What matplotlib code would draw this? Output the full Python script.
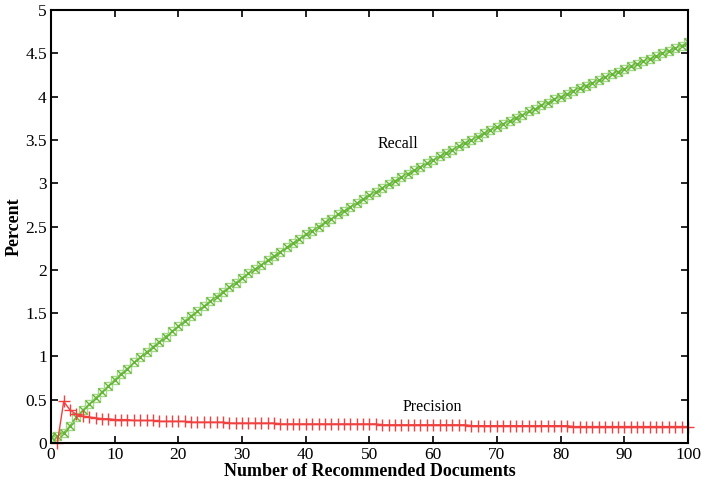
import numpy as np
import matplotlib.pyplot as plt

plt.rcParams['font.family'] = ['Liberation Serif', 'DejaVu Serif']

docs_recall = list(range(0, 101))
recall = [0.07, 0.08, 0.12, 0.20, 0.30, 0.38, 0.45, 0.52, 0.59, 0.66, 0.73,
          0.80, 0.86, 0.93, 0.99, 1.05, 1.11, 1.17, 1.23, 1.29, 1.35,
          1.41, 1.47, 1.52, 1.58, 1.64, 1.69, 1.75, 1.80, 1.85, 1.91,
          1.96, 2.01, 2.06, 2.11, 2.16, 2.21, 2.26, 2.31, 2.36, 2.41,
          2.45, 2.50, 2.55, 2.59, 2.64, 2.68, 2.73, 2.77, 2.82, 2.86,
          2.90, 2.95, 2.99, 3.03, 3.07, 3.11, 3.15, 3.19, 3.23, 3.27,
          3.31, 3.35, 3.39, 3.43, 3.47, 3.50, 3.54, 3.58, 3.62, 3.65,
          3.69, 3.72, 3.76, 3.79, 3.83, 3.86, 3.90, 3.93, 3.97, 4.00,
          4.03, 4.07, 4.10, 4.13, 4.16, 4.19, 4.23, 4.26, 4.29, 4.32,
          4.35, 4.38, 4.41, 4.44, 4.47, 4.50, 4.53, 4.56, 4.59, 4.63]

docs_prec = list(range(1, 101))
precision = [0.00, 0.48, 0.38, 0.33, 0.31, 0.30, 0.29, 0.28, 0.28, 0.27,
             0.27, 0.27, 0.26, 0.26, 0.26, 0.26, 0.25, 0.25, 0.25, 0.25,
             0.25, 0.24, 0.24, 0.24, 0.24, 0.24, 0.24, 0.23, 0.23, 0.23,
             0.23, 0.23, 0.23, 0.23, 0.23, 0.22, 0.22, 0.22, 0.22, 0.22,
             0.22, 0.22, 0.22, 0.22, 0.22, 0.22, 0.22, 0.22, 0.22, 0.22,
             0.22, 0.21, 0.21, 0.21, 0.21, 0.21, 0.21, 0.21, 0.21, 0.21,
             0.21, 0.21, 0.21, 0.21, 0.21, 0.20, 0.20, 0.20, 0.20, 0.20,
             0.20, 0.20, 0.20, 0.20, 0.20, 0.20, 0.20, 0.20, 0.20, 0.20,
             0.20, 0.19, 0.19, 0.19, 0.19, 0.19, 0.19, 0.19, 0.19, 0.19,
             0.19, 0.19, 0.19, 0.19, 0.19, 0.19, 0.19, 0.19, 0.19, 0.19]

fig = plt.figure(figsize=(7.02, 4.86), dpi=100)
ax = fig.add_axes([0.0726, 0.0885, 0.9074, 0.8905])

# recall: line with overlaid hollow square and x markers
ax.plot(docs_recall, recall, color='#6fbf45', lw=1.0, marker='s', ms=5.5,
        mfc='none', mec='#a6d889', mew=1.0)
ax.plot(docs_recall, recall, lw=0, marker='x', ms=6, mec='#64b536', mew=1.0)
ax.plot(docs_prec, precision, color='#f04040', lw=1.0, marker='+', ms=9,
        mew=1.0, clip_on=False)

ax.text(54.5, 3.46, 'Recall', fontsize=11.5, ha='center', va='center')
ax.text(59.8, 0.42, 'Precision', fontsize=11.5, ha='center', va='center')

ax.set_xlim(0, 100)
ax.set_ylim(0, 5)
ax.set_xticks(np.arange(0, 101, 10))
ax.set_yticks(np.arange(0, 5.01, 0.5))
ax.set_yticklabels(['0', '0.5', '1', '1.5', '2', '2.5', '3', '3.5', '4', '4.5', '5'])
ax.tick_params(direction='in', top=True, right=True, labelsize=12.5, length=5,
               width=1.2, pad=3)
for s in ax.spines.values():
    s.set_linewidth(1.5)
ax.set_xlabel('Number of Recommended Documents', fontsize=13, fontweight='bold',
              labelpad=0)
ax.set_ylabel('Percent', fontsize=13, fontweight='bold', labelpad=2)

fig.savefig('out.png', dpi=100)
